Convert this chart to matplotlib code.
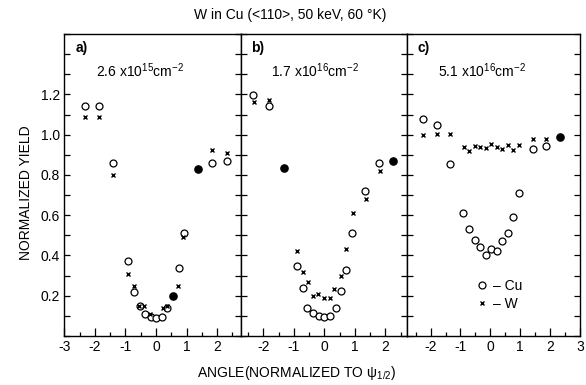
"""Channeling dips for W implanted in Cu at three fluences (Cu host vs W)."""
import numpy as np
import matplotlib
matplotlib.use("Agg")
import matplotlib.pyplot as plt
from matplotlib.ticker import FixedLocator, MultipleLocator

plt.rcParams["font.family"] = ["Liberation Sans", "DejaVu Sans"]
plt.rcParams["mathtext.default"] = "regular"

# ----- panel a) 2.6e15 cm^-2 -----------------------------------------------
A_CU_X = [-2.32, -1.85, -1.40, -0.92, -0.73, -0.52, -0.36, -0.17, 0.00, 0.20, 0.37, 0.55, 0.74, 0.92, 1.37, 1.84, 2.31]
A_CU_Y = [1.14, 1.14, 0.86, 0.37, 0.22, 0.15, 0.11, 0.093, 0.09, 0.096, 0.14, 0.20, 0.34, 0.51, 0.83, 0.86, 0.87]
A_W_X = [-2.32, -1.85, -1.40, -0.92, -0.73, -0.56, -0.40, -0.20, 0.22, 0.35, 0.55, 0.73, 0.89, 1.37, 1.84, 2.31]
A_W_Y = [1.09, 1.09, 0.80, 0.31, 0.25, 0.15, 0.15, 0.11, 0.14, 0.15, 0.20, 0.25, 0.49, 0.83, 0.925, 0.91]
A_OVERLAP = [False] * 11 + [True, False, False, True, False, False]

# ----- panel b) 1.7e16 cm^-2 -----------------------------------------------
B_CU_X = [-2.33, -1.82, -1.32, -0.91, -0.71, -0.56, -0.38, -0.19, 0.00, 0.19, 0.37, 0.54, 0.71, 0.91, 1.34, 1.80, 2.24]
B_CU_Y = [1.195, 1.14, 0.836, 0.35, 0.24, 0.14, 0.116, 0.097, 0.094, 0.10, 0.137, 0.225, 0.33, 0.51, 0.72, 0.86, 0.87]
B_W_X = [-2.30, -1.82, -1.32, -0.91, -0.71, -0.55, -0.38, -0.21, -0.02, 0.17, 0.32, 0.56, 0.71, 0.93, 1.37, 1.83, 2.24]
B_W_Y = [1.16, 1.17, 0.836, 0.42, 0.32, 0.27, 0.20, 0.21, 0.19, 0.19, 0.235, 0.30, 0.43, 0.61, 0.68, 0.82, 0.87]
B_OVERLAP = [False, False, True] + [False] * 13 + [True]

# ----- panel c) 5.1e16 cm^-2 -----------------------------------------------
C_CU_X = [-2.26, -1.79, -1.34, -0.90, -0.72, -0.51, -0.34, -0.15, 0.03, 0.22, 0.40, 0.58, 0.76, 0.95, 1.42, 1.87, 2.33]
C_CU_Y = [1.076, 1.046, 0.853, 0.61, 0.53, 0.477, 0.44, 0.40, 0.43, 0.42, 0.47, 0.51, 0.59, 0.71, 0.93, 0.945, 0.99]
C_W_X = [-2.26, -1.79, -1.34, -0.88, -0.72, -0.51, -0.34, -0.15, 0.03, 0.22, 0.40, 0.58, 0.76, 0.95, 1.42, 1.87, 2.33]
C_W_Y = [1.00, 1.005, 1.005, 0.937, 0.92, 0.943, 0.937, 0.935, 0.953, 0.937, 0.93, 0.95, 0.925, 0.95, 0.978, 0.98, 0.99]
C_OVERLAP = [False] * 16 + [True]

PANELS = [
    ("a)", "2.6 x10$^{15}$cm$^{-2}$", A_CU_X, A_CU_Y, A_W_X, A_W_Y, A_OVERLAP),
    ("b)", "1.7 x10$^{16}$cm$^{-2}$", B_CU_X, B_CU_Y, B_W_X, B_W_Y, B_OVERLAP),
    ("c)", "5.1 x10$^{16}$cm$^{-2}$", C_CU_X, C_CU_Y, C_W_X, C_W_Y, C_OVERLAP),
]
XLIMS = [(-3.0, 2.78), (-2.73, 2.70), (-2.8, 3.0)]
XTICKS = [[-3, -2, -1, 0, 1, 2], [-2, -1, 0, 1, 2], [-2, -1, 0, 1, 2, 3]]
YTICKS = [0.2, 0.4, 0.6, 0.8, 1.0, 1.2]

fig = plt.figure(figsize=(5.86, 3.85), dpi=100)
BOTTOM, HEIGHT = 0.1273, 0.7844
boxes = [(0.1097, 0.3015), (0.4113, 0.2828), (0.6940, 0.2957)]

axes = []
for i, (label, dose, cx, cy, wx, wy, over) in enumerate(PANELS):
    left, width = boxes[i]
    ax = fig.add_axes([left, BOTTOM, width, HEIGHT])
    axes.append(ax)
    cx, cy, over = np.asarray(cx), np.asarray(cy), np.asarray(over)
    ax.plot(cx[~over], cy[~over], "o", ms=5, mfc="white", mec="black", mew=0.9,
            ls="none", label="\u2013 Cu", zorder=3)
    ax.plot(wx, wy, "x", ms=3.2, color="black", mew=1.0, ls="none",
            label="\u2013 W", zorder=4)
    # coincident Cu/W points print as solid dots
    ax.plot(cx[over], cy[over], "o", ms=5.2, color="black", ls="none", zorder=5)

    ax.set_xlim(*XLIMS[i])
    ax.set_ylim(0, 1.5)
    ax.xaxis.set_major_locator(FixedLocator(XTICKS[i]))
    ax.xaxis.set_minor_locator(MultipleLocator(0.5))
    ax.yaxis.set_major_locator(FixedLocator(YTICKS))
    ax.yaxis.set_minor_locator(MultipleLocator(0.1))
    ax.tick_params(axis="both", which="both", direction="in", top=False,
                   right=True, labelsize=10, width=0.9)
    ax.tick_params(axis="x", which="major", length=6, pad=3)
    ax.tick_params(axis="x", which="minor", length=3)
    ax.tick_params(axis="y", which="both", length=4.5, pad=3)
    if i > 0:
        ax.tick_params(axis="y", labelleft=False)
    ax.set_xticklabels([f"{t}" for t in XTICKS[i]])
    for s in ax.spines.values():
        s.set_linewidth(1.0)

    ax.text(0.10, 0.955, label, transform=ax.transAxes, fontsize=10,
            fontweight="bold", ha="center", va="center")
    ax.text(0.18, 0.88, dose, transform=ax.transAxes, fontsize=10,
            ha="left", va="center")

axes[0].set_yticklabels([f"{v:.1f}" for v in YTICKS])
axes[2].legend(loc="center left", bbox_to_anchor=(0.36, 0.135), frameon=False,
               fontsize=10, handlelength=0.8, handletextpad=0.4,
               labelspacing=0.3, borderpad=0)

fig.text(0.495, 0.962, "W in Cu (<110>, 50 keV, 60 \u00b0K)", ha="center",
         va="center", fontsize=10)
fig.text(0.507, 0.03, "ANGLE(NORMALIZED TO $\\psi_{1/2}$)", ha="center",
         va="center", fontsize=10)
fig.text(0.045, 0.50, "NORMALIZED YIELD", rotation=90, ha="center",
         va="center", fontsize=10)

fig.savefig("out.png", dpi=100)
